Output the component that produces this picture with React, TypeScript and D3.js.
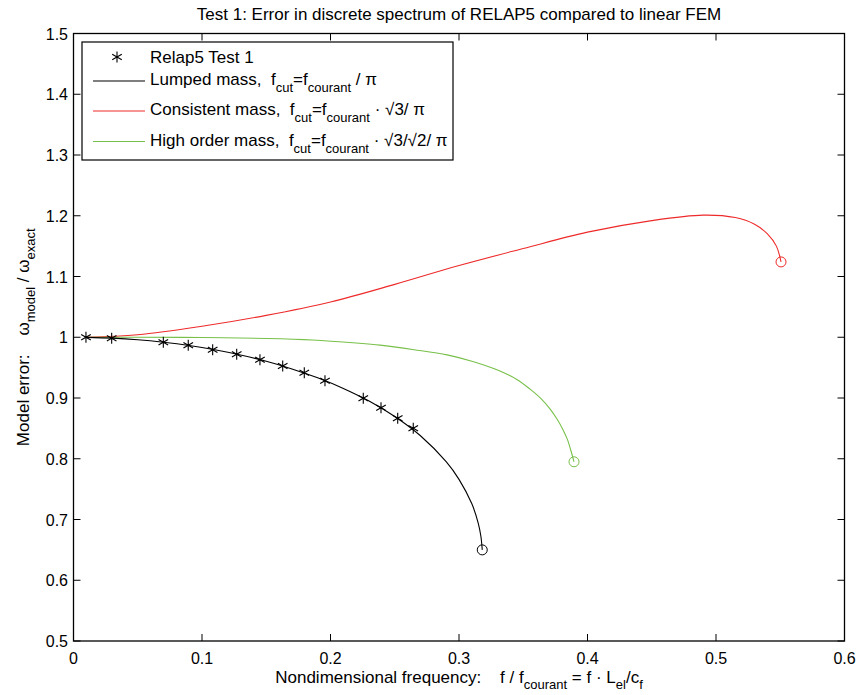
import React from "react";
import * as d3 from "d3";

const W = 859;
const H = 695;

const xTicks = [0, 0.1, 0.2, 0.3, 0.4, 0.5, 0.6];
const yTicks = [0.5, 0.6, 0.7, 0.8, 0.9, 1.0, 1.1, 1.2, 1.3, 1.4, 1.5];

// Relap5 Test 1 points
const relapX = [0.0097, 0.0297, 0.0699, 0.0893, 0.1083, 0.127, 0.1451, 0.1628, 0.1796, 0.1957, 0.2255, 0.2393, 0.2523, 0.2644];
const relapY = [1.0, 0.9985, 0.9917, 0.9867, 0.9795, 0.9719, 0.963, 0.9527, 0.9416, 0.9285, 0.8995, 0.884, 0.8666, 0.8501];

// Lumped mass
const lumpedX = [0.01, 0.03, 0.05, 0.07, 0.09, 0.11, 0.13, 0.15, 0.17, 0.19, 0.21, 0.23, 0.25, 0.27, 0.29, 0.30, 0.31, 0.315, 0.317, 0.3181];
const lumpedY = [0.9998, 0.9985, 0.9959, 0.9918, 0.9864, 0.9794, 0.9708, 0.9604, 0.9479, 0.9332, 0.9157, 0.8949, 0.8695, 0.8378, 0.7951, 0.7661, 0.7258, 0.6938, 0.6729, 0.65];

// Consistent mass
const consX = [0.01, 0.05, 0.10, 0.15, 0.20, 0.25, 0.30, 0.35, 0.40, 0.45, 0.49, 0.515, 0.53, 0.54, 0.547, 0.5506];
const consY = [1.0, 1.004, 1.018, 1.036, 1.058, 1.087, 1.118, 1.146, 1.173, 1.192, 1.201, 1.197, 1.186, 1.170, 1.150, 1.124];

// High order mass
const highX = [0.01, 0.05, 0.10, 0.15, 0.186, 0.22, 0.2385, 0.265, 0.2907, 0.31, 0.33, 0.345, 0.3553, 0.364, 0.3708, 0.3765, 0.381, 0.3845, 0.387, 0.3895];
const highY = [1.0, 1.0, 0.9995, 0.998, 0.9955, 0.9905, 0.987, 0.9795, 0.971, 0.9605, 0.946, 0.9305, 0.9145, 0.8985, 0.882, 0.8645, 0.8475, 0.831, 0.814, 0.795];

const RED = "#ee2a2a";
const GREEN = "#78c04a";
const FONT = "'Liberation Sans', Arial, Helvetica, sans-serif";

type Seg = { t: string; sub?: boolean };

function Rich({ x, y, segs, size, subSize, shift, anchor = "start", transform }: { x: number; y: number; segs: Seg[]; size: number; subSize: number; shift: number; anchor?: string; transform?: string }) {
  let prevSub = false;
  return (
    <text x={x} y={y} fontSize={size} fontFamily={FONT} textAnchor={anchor} transform={transform} style={{ whiteSpace: "pre" }} fill="#000">
      {segs.map((s, i) => {
        let dy = 0;
        if (s.sub && !prevSub) dy = shift;
        if (!s.sub && prevSub) dy = -shift;
        prevSub = !!s.sub;
        return (
          <tspan key={i} dy={dy} fontSize={s.sub ? subSize : size}>
            {s.t}
          </tspan>
        );
      })}
    </text>
  );
}

const starPath = "M0,-5.5L0,5.5M-4.8,-2.75L4.8,2.75M-4.8,2.75L4.8,-2.75";

export default function App() {
  const left = 73.5, right = 844.5, top = 33.5, bottom = 641;
  const x = d3.scaleLinear().domain([0, 0.6]).range([left, right]);
  const y = d3.scaleLinear().domain([0.5, 1.5]).range([bottom, top]);

  const line = d3
    .line<[number, number]>()
    .x((d) => x(d[0]))
    .y((d) => y(d[1]))
    .curve(d3.curveCatmullRom.alpha(0.5));

  const zip = (a: number[], b: number[]) => a.map((v, i) => [v, b[i]] as [number, number]);
  const lumped = zip(lumpedX, lumpedY);
  const cons = zip(consX, consY);
  const high = zip(highX, highY);
  const relap = zip(relapX, relapY);

  const tickLen = 7;

  const legendRows = [
    { kind: "star", y: 57, color: "#000", segs: [{ t: "Relap5 Test 1" }] as Seg[] },
    {
      kind: "line", y: 81, color: "#000",
      segs: [{ t: "Lumped mass,  f" }, { t: "cut", sub: true }, { t: "=f" }, { t: "courant", sub: true }, { t: " / π" }] as Seg[],
    },
    {
      kind: "line", y: 111, color: RED,
      segs: [{ t: "Consistent mass,  f" }, { t: "cut", sub: true }, { t: "=f" }, { t: "courant", sub: true }, { t: " · √3/ π" }] as Seg[],
    },
    {
      kind: "line", y: 141.5, color: GREEN,
      segs: [{ t: "High order mass,  f" }, { t: "cut", sub: true }, { t: "=f" }, { t: "courant", sub: true }, { t: " · √3/√2/ π" }] as Seg[],
    },
  ];

  return (
    <svg width={W} height={H} style={{ position: "absolute", left: 0, top: 0, background: "#fff" }}>
      <rect x={0} y={0} width={W} height={H} fill="#fff" />
      {/* title */}
      <text x={(left + right) / 2} y={20} textAnchor="middle" fontSize={17} fontFamily={FONT}>
        Test 1: Error in discrete spectrum of RELAP5 compared to linear FEM
      </text>

      {/* ticks */}
      {xTicks.map((t) => (
        <g key={"xt" + t}>
          <line x1={x(t)} x2={x(t)} y1={bottom} y2={bottom - tickLen} stroke="#000" />
          <line x1={x(t)} x2={x(t)} y1={top} y2={top + tickLen} stroke="#000" />
          <text x={x(t)} y={664} textAnchor="middle" fontSize={16} fontFamily={FONT}>
            {String(+t.toFixed(1))}
          </text>
        </g>
      ))}
      {yTicks.map((t) => (
        <g key={"yt" + t}>
          <line x1={left} x2={left + tickLen} y1={y(t)} y2={y(t)} stroke="#000" />
          <line x1={right} x2={right - tickLen} y1={y(t)} y2={y(t)} stroke="#000" />
          <text x={68} y={y(t) + 6} textAnchor="end" fontSize={16} fontFamily={FONT}>
            {String(+t.toFixed(1))}
          </text>
        </g>
      ))}

      {/* curves */}
      <path d={line(cons) || ""} fill="none" stroke={RED} strokeWidth={1.1} />
      <path d={line(high) || ""} fill="none" stroke={GREEN} strokeWidth={1.1} />
      <path d={line(lumped) || ""} fill="none" stroke="#000" strokeWidth={1.1} />

      {/* end circles */}
      <circle cx={x(lumpedX[lumpedX.length - 1])} cy={y(lumpedY[lumpedY.length - 1])} r={5} fill="none" stroke="#000" />
      <circle cx={x(consX[consX.length - 1])} cy={y(consY[consY.length - 1])} r={5} fill="none" stroke={RED} />
      <circle cx={x(highX[highX.length - 1])} cy={y(highY[highY.length - 1])} r={5} fill="none" stroke={GREEN} />

      {/* stars */}
      {relap.map((d, i) => (
        <path key={"s" + i} d={starPath} transform={`translate(${x(d[0])},${y(d[1])})`} stroke="#000" strokeWidth={1.1} fill="none" />
      ))}

      {/* axes box */}
      <rect x={left} y={top} width={right - left} height={bottom - top} fill="none" stroke="#000" strokeWidth={1.3} />

      {/* legend */}
      <rect x={82} y={42} width={371} height={118} fill="#fff" stroke="#000" strokeWidth={1.2} />
      {legendRows.map((r, i) => (
        <g key={"lg" + i}>
          {r.kind === "star" ? (
            <path d={starPath} transform={`translate(117,${r.y})`} stroke="#000" strokeWidth={1.1} fill="none" />
          ) : (
            <line x1={93} x2={145} y1={r.y} y2={r.y} stroke={r.color} strokeWidth={1.1} />
          )}
          <Rich x={150} y={(r.kind === "star" ? r.y : r.y - 2) + 6} segs={r.segs} size={17} subSize={13} shift={7} />
        </g>
      ))}

      {/* x label */}
      <Rich
        x={(left + right) / 2}
        y={683}
        anchor="middle"
        size={17}
        subSize={13}
        shift={6}
        segs={[{ t: "Nondimensional frequency:    f / f" }, { t: "courant", sub: true }, { t: " = f · L" }, { t: "el", sub: true }, { t: "/c" }, { t: "f", sub: true }]}
      />

      {/* y label */}
      <Rich
        x={0}
        y={0}
        anchor="middle"
        size={17}
        subSize={13}
        shift={6}
        transform={`translate(29,${(top + bottom) / 2}) rotate(-90)`}
        segs={[{ t: "Model error:    ω" }, { t: "model", sub: true }, { t: " / ω" }, { t: "exact", sub: true }]}
      />
    </svg>
  );
}
